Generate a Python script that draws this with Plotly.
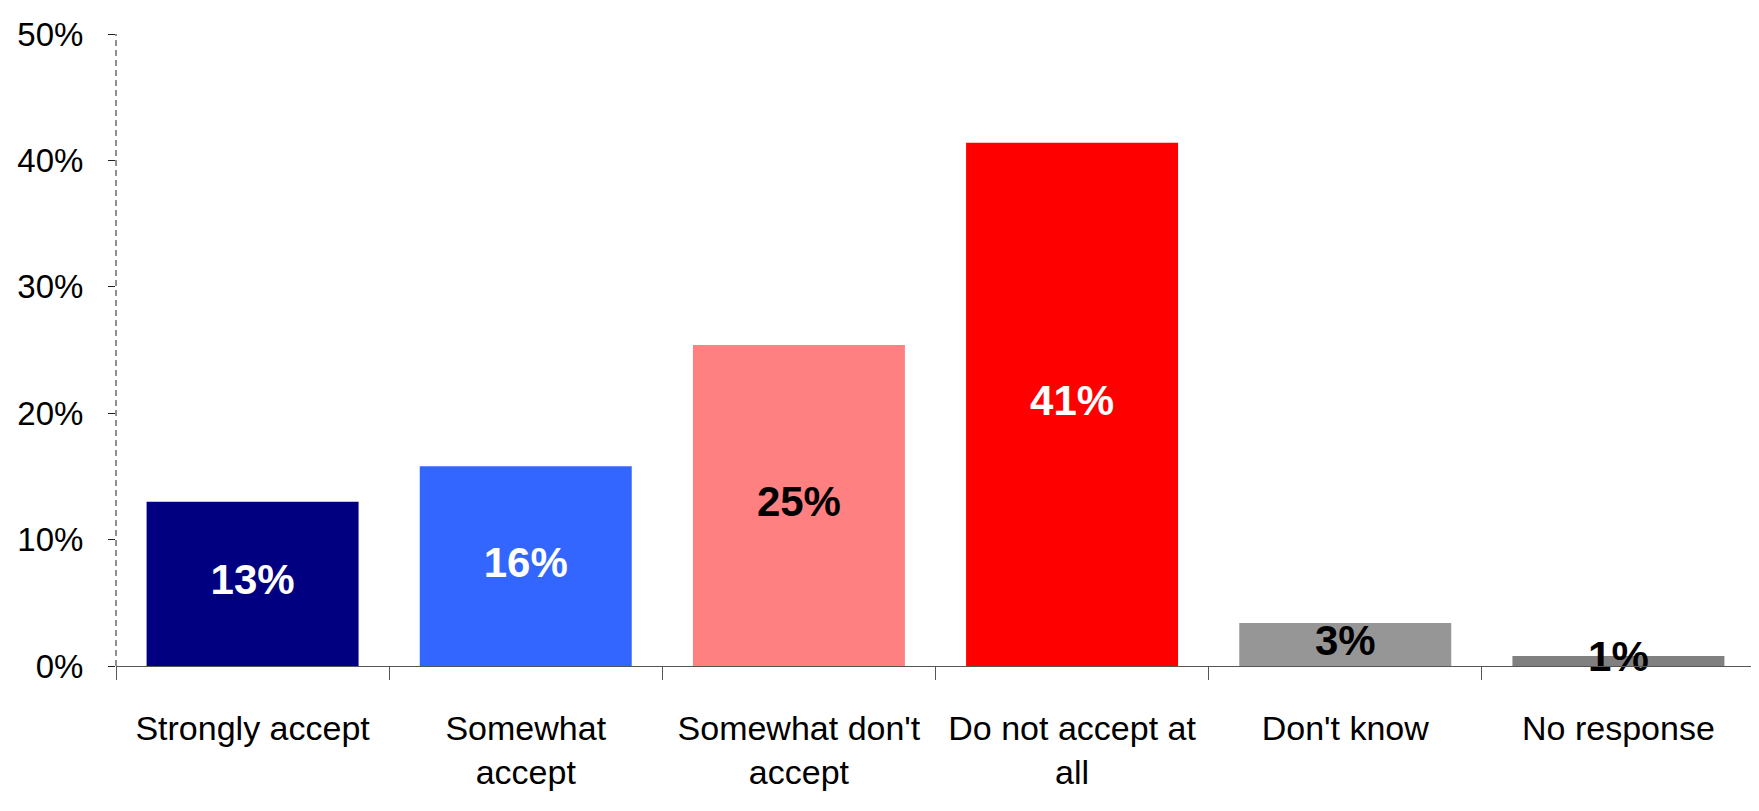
import plotly.graph_objects as go

categories = ["Strongly accept", "Somewhat<br>accept", "Somewhat don't<br>accept",
              "Do not accept at<br>all", "Don't know", "No response"]
values = [13.0, 15.8, 25.4, 41.4, 3.4, 0.8]
bar_colors = ["#000080", "#3366FF", "#FF8080", "#FF0000", "#969696", "#808080"]
label_colors = ["white", "white", "black", "white", "black", "black"]
y_ticks = [0, 10, 20, 30, 40, 50]
y_tick_labels = ["0%", "10%", "20%", "30%", "40%", "50%"]

labels = [f"{v:.0f}%" for v in values]
mids = [v / 2 for v in values]

fig = go.Figure()
fig.add_trace(go.Bar(x=categories, y=values, marker=dict(color=bar_colors, line=dict(width=0)),
                     hoverinfo="skip", showlegend=False))
fig.add_trace(go.Scatter(x=categories, y=mids, mode="text", text=labels,
                         textfont=dict(family="Liberation Sans, Arial", size=42, color=label_colors,
                                       weight="bold"),
                         cliponaxis=False, showlegend=False, hoverinfo="skip"))

base = "Liberation Sans, Arial, sans-serif"
fig.update_layout(
    width=1751, height=803,
    margin=dict(l=108, r=4, t=26, b=145),
    plot_bgcolor="white", paper_bgcolor="white",
    bargap=0.224,
    font=dict(family=base, size=34, color="black"),
    xaxis=dict(showline=True, linecolor="#555555", linewidth=1, ticks="outside",
               tickson="boundaries", ticklen=13, tickcolor="#555555", showgrid=False,
               tickangle=0, automargin=False, ticklabelstandoff=32,
               tickfont=dict(family=base, size=34, color="black")),
    yaxis=dict(range=[0, 50], tickvals=y_ticks, ticktext=y_tick_labels, showgrid=False,
               zeroline=False, showline=False, ticks="outside", ticklen=7, tickcolor="#222222",
               ticklabelstandoff=18, automargin=False,
               tickfont=dict(family=base, size=33, color="black")),
    shapes=[dict(type="line", xref="paper", yref="paper", x0=0, x1=0, y0=0, y1=1,
                 line=dict(color="#222222", width=1, dash="6px,4px"))],
)

fig.write_html("out.html")
